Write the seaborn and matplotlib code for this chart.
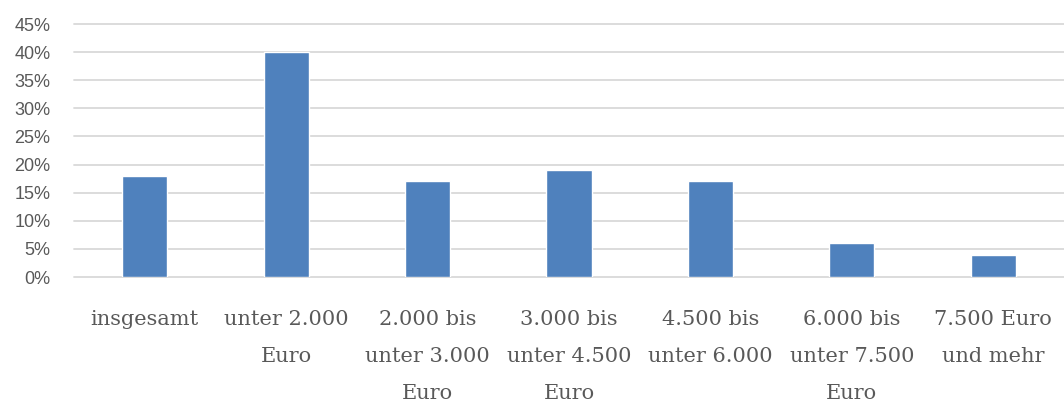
import matplotlib
matplotlib.use("Agg")
import matplotlib.pyplot as plt
from matplotlib.ticker import PercentFormatter
import seaborn as sns
import pandas as pd

# ========== Data ==========
categories = [
    "insgesamt",
    "unter 2.000\nEuro",
    "2.000 bis\nunter 3.000\nEuro",
    "3.000 bis\nunter 4.500\nEuro",
    "4.500 bis\nunter 6.000",
    "6.000 bis\nunter 7.500\nEuro",
    "7.500 Euro\nund mehr",
]
values = [18, 40, 17, 19, 17, 6, 4]

df = pd.DataFrame({"kategorie": categories, "anteil": values})

# ========== Plot ==========
sns.set_style("white")
fig = plt.figure(figsize=(10.64, 4.05), dpi=100)
ax = fig.add_axes([74 / 1064, 128 / 405, 1 - 74 / 1064, 253 / 405])

sns.barplot(data=df, x="kategorie", y="anteil", color="#4F81BD",
            width=0.32, saturation=1, ax=ax, zorder=3)

ax.set_ylim(0, 45)
ax.set_yticks(range(0, 50, 5))
ax.yaxis.set_major_formatter(PercentFormatter(decimals=0))
ax.grid(axis="y", color="#D9D9D9", linewidth=1.3, zorder=0)
for gl in ax.get_ygridlines():
    gl.set_clip_on(False)
ax.set_axisbelow(True)
ax.set_xlabel("")
ax.set_ylabel("")
for s in ax.spines.values():
    s.set_visible(False)
ax.tick_params(axis="both", length=0)
ax.tick_params(axis="y", pad=17, labelsize=13, labelcolor="#595959")
for lbl in ax.get_yticklabels():
    lbl.set_family("Liberation Sans")
ax.tick_params(axis="x", pad=24, labelsize=15, labelcolor="#595959")
for lbl in ax.get_xticklabels():
    lbl.set_family("DejaVu Serif")
    lbl.set_linespacing(2.18)
    lbl.set_verticalalignment("top")

fig.savefig("out.png", dpi=100)
